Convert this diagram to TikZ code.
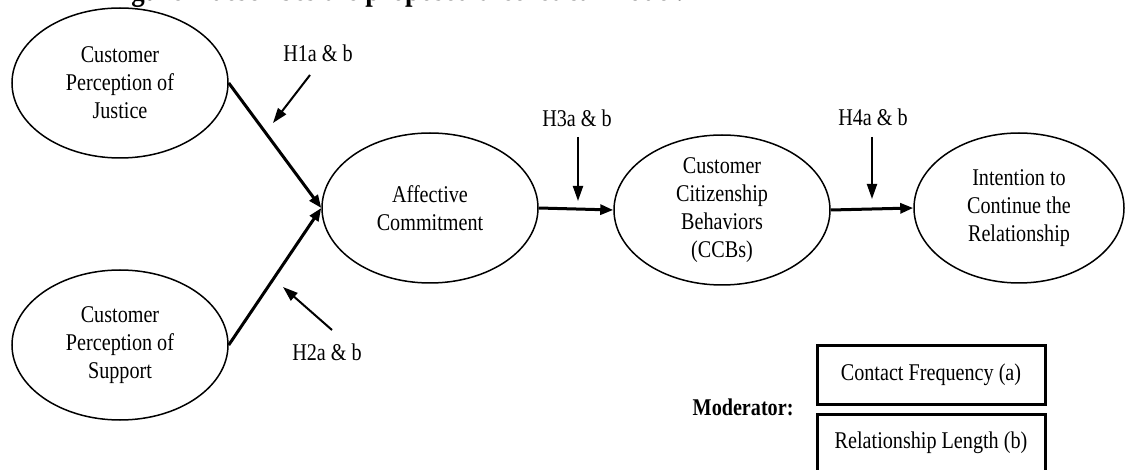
\documentclass[tikz,border=0pt]{standalone}
\usepackage{fontspec}
\setmainfont{Liberation Serif}[FakeStretch=0.84]
\usetikzlibrary{shapes.geometric,arrows.meta}

\begin{document}
\begin{tikzpicture}[x=1pt,y=-1pt]
\tikzset{oval/.style={draw, ellipse, line width=1.5pt, minimum width=216pt, minimum height=150pt, inner sep=0pt, align=center, font=\fontsize{24}{28}\selectfont},
  pathway/.style={line width=3pt, -{Triangle[length=13pt,width=10pt]}},
  modarrow/.style={line width=2pt, -{Triangle[length=15pt,width=10pt]}},
  hlabel/.style={font=\fontsize{24}{28}\selectfont},
  modbox/.style={draw, line width=3pt, minimum width=228pt, minimum height=58pt, font=\fontsize{24}{28}\selectfont}}
\useasboundingbox (0,0) rectangle (1125,470);
\clip (0,0) rectangle (1125,470);
\node[anchor=base west, font=\fontsize{32}{36}\selectfont\bfseries] (title) at (104,1) {Figure 1 describes the proposed theoretical model.};
\node[oval] (justice) at (120,83) {Customer\\Perception of\\Justice};
\node[oval] (support) at (120,345) {Customer\\Perception of\\Support};
\node[oval] (affect) at (430,208) {Affective\\Commitment};
\node[oval] (ccb) at (722,210) {Customer\\Citizenship\\Behaviors\\(CCBs)};
\node[oval, minimum width=210pt] (intent) at (1019,208) {Intention to\\Continue the\\Relationship};
\draw[pathway] (justice.east) -- (affect.west);
\draw[pathway] (support.east) -- (affect.west);
\draw[pathway] (affect.east) -- (ccb.west);
\draw[pathway] (ccb.east) -- (intent.west);
% moderating paths
\node[hlabel] (h1) at (318,53) {H1a \& b};
\node[hlabel] (h2) at (327,352) {H2a \& b};
\node[hlabel] (h3) at (577,118) {H3a \& b};
\node[hlabel] (h4) at (873,117) {H4a \& b};
\coordinate (h1s) at (310,75);
\coordinate (h1e) at (273,123);
\coordinate (h2s) at (332,330);
\coordinate (h2e) at (283,287);
\coordinate (h3s) at (578,137);
\coordinate (h3e) at (578,201);
\coordinate (h4s) at (872,137);
\coordinate (h4e) at (872,199);
\draw[modarrow] (h1s) -- (h1e);
\draw[modarrow] (h2s) -- (h2e);
\draw[modarrow] (h3s) -- (h3e);
\draw[modarrow] (h4s) -- (h4e);
% moderators
\node[anchor=east, font=\fontsize{24}{28}\selectfont\bfseries] (mod) at (797,407) {Moderator:};
\node[modbox] (freq) at (931,375) {Contact Frequency (a)};
\node[modbox] (length) at (931,443) {Relationship Length (b)};
\end{tikzpicture}
\end{document}
